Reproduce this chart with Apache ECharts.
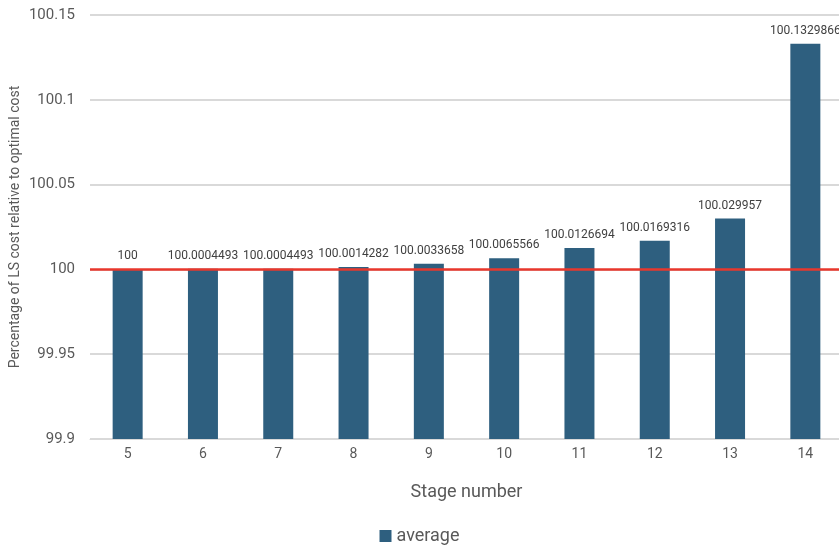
<!DOCTYPE html>
<html>
<head>
<meta charset="utf-8">
<script src="https://cdn.jsdelivr.net/npm/echarts@6/dist/echarts.min.js"></script>
<style>
  html, body { margin: 0; padding: 0; background: #fff; }
  #chart { width: 839px; height: 549px; }
</style>
</head>
<body>
<div id="chart"></div>
<script>
// Stage numbers on the x axis
const stages = ['5', '6', '7', '8', '9', '10', '11', '12', '13', '14'];
// Average LS cost as a percentage of the optimal cost
const average = [100, 100.0004493, 100.0004493, 100.0014282, 100.0033658,
                 100.0065566, 100.0126694, 100.0169316, 100.029957, 100.1329866];
// Reference level for the optimal cost
const optimalLevel = 100;

const FONT = 'Roboto, "Open Sans", sans-serif';
const chart = echarts.init(document.getElementById('chart'));

chart.setOption({
  animation: false,
  textStyle: { fontFamily: FONT },
  grid: { left: 90, right: -4, top: 15, bottom: 110, outerBoundsMode: 'none', containLabel: false },
  legend: {
    bottom: -1,
    left: 'center',
    data: ['average'],
    icon: 'rect',
    itemWidth: 12,
    itemHeight: 12,
    itemGap: 6,
    textStyle: { fontSize: 18, color: '#595959', fontFamily: FONT }
  },
  xAxis: {
    type: 'category',
    data: stages,
    name: 'Stage number',
    nameLocation: 'middle',
    nameGap: 44,
    nameTextStyle: { fontSize: 18, color: '#595959' },
    axisLine: { lineStyle: { color: '#d9d9d9', width: 1 } },
    axisTick: { show: false },
    axisLabel: { fontSize: 14, color: '#595959', margin: 8 }
  },
  yAxis: {
    type: 'value',
    min: 99.9,
    max: 100.15,
    interval: 0.05,
    name: 'Percentage of LS cost relative to optimal cost',
    nameLocation: 'middle',
    nameGap: 68,
    nameMoveOverlap: false,
    nameTextStyle: { fontSize: 14, color: '#595959' },
    axisLine: { show: false },
    axisTick: { show: false },
    axisLabel: {
      fontSize: 15,
      color: '#595959',
      margin: 15,
      formatter: v => String(parseFloat(v.toFixed(2)))
    },
    splitLine: { lineStyle: { color: '#d9d9d9', width: 2 } }
  },
  series: [{
    name: 'average',
    type: 'bar',
    data: average,
    barWidth: 30,
    itemStyle: { color: '#2e5f7f' },
    label: {
      show: true,
      position: 'top',
      distance: 7,
      fontSize: 12,
      color: '#404040',
      formatter: p => String(p.value)
    },
    markLine: {
      silent: true,
      symbol: 'none',
      label: { show: false },
      lineStyle: { color: '#e8372c', width: 2.5, type: 'solid' },
      data: [{ yAxis: optimalLevel }]
    }
  }]
});
</script>
</body>
</html>
